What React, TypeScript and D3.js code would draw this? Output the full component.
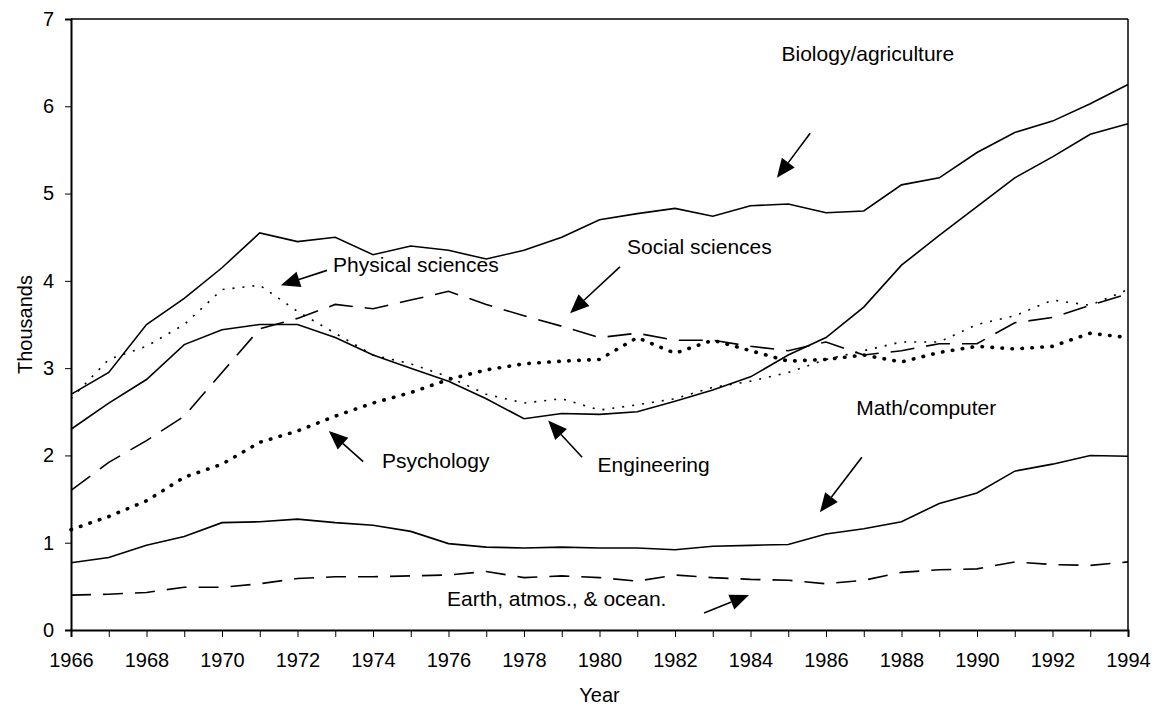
import React, { useEffect, useRef } from "react";
import * as d3 from "d3";

const years = d3.range(1966, 1995);

const biology = [2.7, 2.95, 3.5, 3.8, 4.15, 4.55, 4.45, 4.5, 4.3, 4.4, 4.35, 4.25, 4.35, 4.5, 4.7, 4.77, 4.83, 4.74, 4.86, 4.88, 4.78, 4.8, 5.1, 5.18, 5.47, 5.7, 5.83, 6.03, 6.25];
const physical = [2.65, 3.1, 3.25, 3.5, 3.9, 3.95, 3.65, 3.4, 3.15, 3.05, 2.9, 2.7, 2.6, 2.65, 2.52, 2.58, 2.65, 2.78, 2.85, 2.95, 3.1, 3.2, 3.3, 3.3, 3.5, 3.6, 3.78, 3.72, 3.9];
const engineering = [2.3, 2.6, 2.87, 3.27, 3.44, 3.5, 3.5, 3.35, 3.15, 3.0, 2.85, 2.65, 2.42, 2.48, 2.47, 2.5, 2.62, 2.75, 2.9, 3.15, 3.35, 3.7, 4.18, 4.52, 4.85, 5.18, 5.42, 5.68, 5.8];
const social = [1.6, 1.92, 2.17, 2.45, 2.95, 3.45, 3.57, 3.73, 3.68, 3.78, 3.88, 3.73, 3.6, 3.48, 3.35, 3.4, 3.32, 3.32, 3.25, 3.2, 3.3, 3.15, 3.2, 3.28, 3.28, 3.52, 3.58, 3.72, 3.85];
const psychology = [1.15, 1.3, 1.48, 1.75, 1.9, 2.15, 2.28, 2.45, 2.6, 2.72, 2.87, 2.98, 3.05, 3.08, 3.1, 3.35, 3.17, 3.32, 3.2, 3.08, 3.1, 3.15, 3.07, 3.18, 3.25, 3.22, 3.25, 3.4, 3.35];
const mathComputer = [0.77, 0.83, 0.97, 1.07, 1.23, 1.24, 1.27, 1.23, 1.2, 1.13, 0.99, 0.95, 0.94, 0.95, 0.94, 0.94, 0.92, 0.96, 0.97, 0.98, 1.1, 1.16, 1.24, 1.45, 1.57, 1.82, 1.9, 2.0, 1.99];
const earth = [0.4, 0.41, 0.43, 0.49, 0.49, 0.53, 0.59, 0.61, 0.61, 0.62, 0.63, 0.67, 0.6, 0.62, 0.6, 0.56, 0.63, 0.6, 0.58, 0.57, 0.53, 0.57, 0.66, 0.69, 0.7, 0.78, 0.75, 0.74, 0.78];

const yTicks = [0, 1, 2, 3, 4, 5, 6, 7];
const xLabelYears = d3.range(1966, 1995, 2);

// label text, anchor (year, value), arrow tail and head (year, value)
const labelNames = ["Biology/agriculture", "Physical sciences", "Social sciences", "Psychology", "Engineering", "Math/computer", "Earth, atmos., & ocean."];
const labelAt = [[1987.11, 6.52], [1972.94, 4.1], [1980.73, 4.31], [1974.24, 1.86], [1979.95, 1.81], [1986.8, 2.46], [1975.96, 0.27]];
const arrowFrom = [[1985.58, 5.69], [1972.78, 4.12], [1980.54, 4.16], [1973.74, 1.93], [1979.54, 1.98], [1986.95, 1.98], [1982.77, 0.195]];
const arrowTo = [[1984.7, 5.18], [1971.56, 3.95], [1979.22, 3.63], [1972.83, 2.28], [1978.64, 2.4], [1985.84, 1.35], [1983.96, 0.4]];

const App = () => {
  const svgRef = useRef(null);

  useEffect(() => {
    const root = d3.select(svgRef.current);
    root.selectAll("*").remove();

    const width = 1159;
    const height = 713;
    const margin = { top: 19, right: 31, bottom: 83, left: 71 };
    const w = width - margin.left - margin.right;
    const h = height - margin.top - margin.bottom;
    const font = "Arial, 'Liberation Sans', Helvetica, sans-serif";

    root.attr("width", width).attr("height", height);
    const svg = root.append("g").attr("transform", `translate(${margin.left},${margin.top})`);

    const x = d3.scaleLinear().domain([1966, 1994]).range([0, w]);
    const y = d3.scaleLinear().domain([0, 7]).range([h, 0]);

    // frame
    svg.append("line").attr("x1", 0).attr("x2", w).attr("y1", 0).attr("y2", 0).attr("stroke", "#000").attr("stroke-width", 1.5);
    svg.append("line").attr("x1", w).attr("x2", w).attr("y1", 0).attr("y2", h).attr("stroke", "#000").attr("stroke-width", 1.5);

    const xAxis = svg
      .append("g")
      .attr("transform", `translate(0,${h})`)
      .call(d3.axisBottom(x).tickValues(years).tickSize(7).tickFormat((d) => (xLabelYears.includes(d) ? String(d) : "")));
    xAxis.select(".domain").attr("stroke-width", 2);
    xAxis.selectAll("text").attr("font-family", font).attr("font-size", 20).attr("dy", "1.35em").attr("fill", "#000");

    const yAxis = svg.append("g").call(d3.axisLeft(y).tickValues(yTicks).tickSize(6).tickFormat(d3.format("d")));
    yAxis.select(".domain").attr("stroke-width", 2);
    yAxis.selectAll("text").attr("font-family", font).attr("font-size", 20).attr("x", -17).attr("fill", "#000");

    svg
      .append("text")
      .attr("x", w / 2)
      .attr("y", h + 72)
      .attr("text-anchor", "middle")
      .attr("font-family", font)
      .attr("font-size", 20)
      .text("Year");

    svg
      .append("text")
      .attr("transform", `translate(${-39},${h / 2}) rotate(-90)`)
      .attr("text-anchor", "middle")
      .attr("font-family", font)
      .attr("font-size", 20)
      .text("Thousands");

    const series = [
      { values: biology, dash: null, width: 1.6, cap: "butt" },
      { values: engineering, dash: null, width: 1.6, cap: "butt" },
      { values: mathComputer, dash: null, width: 1.6, cap: "butt" },
      { values: physical, dash: "2,8", width: 1.6, cap: "butt" },
      { values: social, dash: "24,12", width: 1.6, cap: "butt" },
      { values: psychology, dash: "0.5,9.5", width: 3.6, cap: "round" },
      { values: earth, dash: "20,12", width: 1.6, cap: "butt" },
    ];

    const line = d3
      .line()
      .x((d, i) => x(years[i]))
      .y((d) => y(d));

    series.forEach((s) => {
      svg
        .append("path")
        .datum(s.values)
        .attr("d", line)
        .attr("fill", "none")
        .attr("stroke", "#000")
        .attr("stroke-width", s.width)
        .attr("stroke-linecap", s.cap)
        .attr("stroke-dasharray", s.dash);
    });

    // annotations
    labelNames.forEach((name, i) => {
      svg
        .append("text")
        .attr("x", x(labelAt[i][0]))
        .attr("y", y(labelAt[i][1]))
        .attr("text-anchor", i === 0 ? "middle" : "start")
        .attr("font-family", font)
        .attr("font-size", 21)
        .text(name);

      const x1 = x(arrowFrom[i][0]);
      const y1 = y(arrowFrom[i][1]);
      const x2 = x(arrowTo[i][0]);
      const y2 = y(arrowTo[i][1]);
      const ang = Math.atan2(y2 - y1, x2 - x1);
      const headLen = 19;
      const headHalf = 8;
      const bx = x2 - headLen * Math.cos(ang);
      const by = y2 - headLen * Math.sin(ang);

      svg
        .append("line")
        .attr("x1", x1)
        .attr("y1", y1)
        .attr("x2", bx)
        .attr("y2", by)
        .attr("stroke", "#000")
        .attr("stroke-width", 1.6);

      const px = -Math.sin(ang) * headHalf;
      const py = Math.cos(ang) * headHalf;
      svg
        .append("path")
        .attr("d", `M${x2},${y2}L${bx + px},${by + py}L${bx - px},${by - py}Z`)
        .attr("fill", "#000");
    });
  }, []);

  return (
    <svg ref={svgRef} style={{ position: "absolute", left: 0, top: 0, background: "#fff" }}></svg>
  );
};

export default App;
